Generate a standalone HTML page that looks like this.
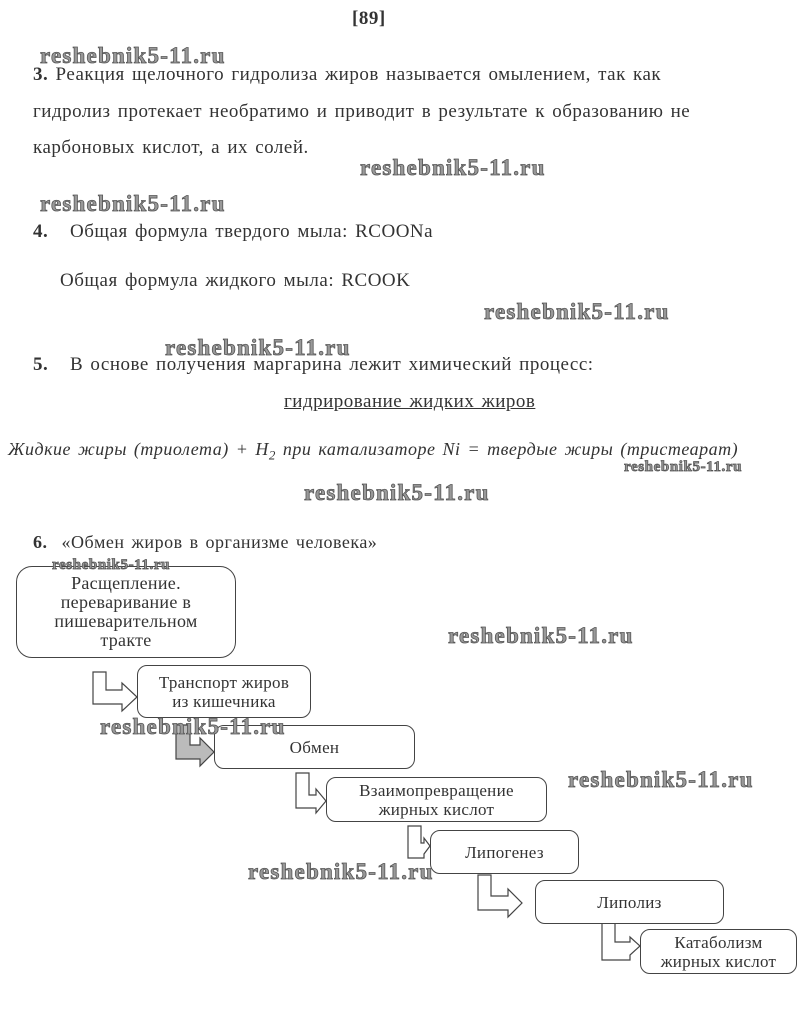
<!DOCTYPE html>
<html><head><meta charset="utf-8"><style>
body{margin:0;background:#fff;}
#p{position:relative;width:808px;height:1021px;overflow:hidden;font-family:"Liberation Serif","Noto Serif CJK SC",serif;color:#333;}
.t{position:absolute;white-space:nowrap;font-size:19px;letter-spacing:0.5px;word-spacing:2px;}
.w{position:absolute;white-space:nowrap;font-family:"Liberation Serif",serif;font-weight:bold;font-size:23px;color:#999;-webkit-text-stroke:0.8px #555;letter-spacing:1.2px;}
.b{position:absolute;border:1.3px solid #444;border-radius:10px;background:#fff;box-sizing:border-box;display:flex;align-items:center;justify-content:center;text-align:center;font-size:17px;line-height:19px;color:#333;letter-spacing:0.3px;}
</style></head><body><div id="p">
<div class="t" style="left:352px;top:8px;font-weight:bold;font-size:19px;">[89]</div>
<div class="w" style="left:40px;top:43px;">reshebnik5-11.ru</div>
<div class="t" style="left:33px;top:64px;"><b>3.</b> Реакция щелочного гидролиза жиров называется омылением, так как</div>
<div class="t" style="left:33px;top:101px;">гидролиз протекает необратимо и приводит в результате к образованию не</div>
<div class="t" style="left:33px;top:137px;">карбоновых кислот, а их солей.</div>
<div class="w" style="left:360px;top:155px;">reshebnik5-11.ru</div>
<div class="w" style="left:40px;top:191px;">reshebnik5-11.ru</div>
<div class="t" style="left:33px;top:221px;"><b>4.</b>&nbsp;&nbsp; Общая формула твердого мыла: RCOONa</div>
<div class="t" style="left:60px;top:270px;">Общая формула жидкого мыла: RCOOK</div>
<div class="w" style="left:484px;top:299px;">reshebnik5-11.ru</div>
<div class="w" style="left:165px;top:335px;">reshebnik5-11.ru</div>
<div class="t" style="left:33px;top:354px;"><b>5.</b>&nbsp;&nbsp; В основе получения маргарина лежит химический процесс:</div>
<div class="t" style="left:284px;top:391px;text-decoration:underline;">гидрирование жидких жиров</div>
<div class="t" style="left:8px;top:439px;font-style:italic;font-size:18px;letter-spacing:0.5px;">Жидкие жиры (триолета) + H<sub style="font-size:13px">2</sub> при катализаторе Ni = твердые жиры (тристеарат)</div>
<div class="w" style="left:624px;top:459px;font-size:15px;letter-spacing:0.6px;">reshebnik5-11.ru</div>
<div class="w" style="left:304px;top:480px;">reshebnik5-11.ru</div>
<div class="t" style="left:33px;top:532px;font-size:18px;"><b>6.</b>&nbsp;&nbsp;«Обмен жиров в организме человека»</div>
<div class="w" style="left:448px;top:623px;">reshebnik5-11.ru</div>
<div class="w" style="left:568px;top:767px;">reshebnik5-11.ru</div>
<svg style="position:absolute;left:0;top:0" width="808" height="1021">
<g fill="#fff" stroke="#444" stroke-width="1.2">
<polygon points="93,672 106,672 106,690 122,690 122,683 137,697 122,711 122,704 93,704"/>
<polygon fill="#bbb" points="176,725 190,725 190,745 200,745 200,738 214,752 200,766 200,759 176,759"/>
<polygon points="296,773 309,773 309,795 316,795 316,789 326,801 316,813 316,808 296,808"/>
<polygon points="408,826 421,826 421,843 424,843 424,838 430,846 424,854 424,858 408,858"/>
<polygon points="478,875 491,875 491,896 508,896 508,889 522,903 508,917 508,910 478,910"/>
<polygon points="602,922 615,922 615,942 630,942 630,937 640,946 630,955 630,960 602,960"/>
</g></svg>
<div class="b" style="left:16px;top:566px;width:220px;height:92px;border-radius:16px;font-size:18px;">Расщепление.<br>переваривание в<br>пишеварительном<br>тракте</div>
<div class="b" style="left:137px;top:665px;width:174px;height:53px;">Транспорт жиров<br>из кишечника</div>
<div class="b" style="left:214px;top:725px;width:201px;height:44px;">Обмен</div>
<div class="b" style="left:326px;top:777px;width:221px;height:45px;">Взаимопревращение<br>жирных кислот</div>
<div class="b" style="left:430px;top:830px;width:149px;height:44px;">Липогенез</div>
<div class="b" style="left:535px;top:880px;width:189px;height:44px;">Липолиз</div>
<div class="b" style="left:640px;top:929px;width:157px;height:45px;">Катаболизм<br>жирных кислот</div>
<div class="w" style="left:52px;top:557px;font-size:15px;letter-spacing:0.6px;">reshebnik5-11.ru</div>
<div class="w" style="left:100px;top:714px;">reshebnik5-11.ru</div>
<div class="w" style="left:248px;top:859px;">reshebnik5-11.ru</div>
</div></body></html>
